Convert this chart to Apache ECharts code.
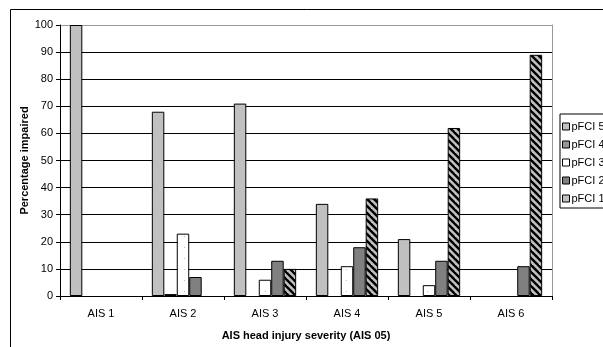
<!DOCTYPE html>
<html>
<head>
<meta charset="utf-8">
<script src="https://cdn.jsdelivr.net/npm/echarts@6/dist/echarts.min.js"></script>
<style>
html,body{margin:0;padding:0;background:#fff;}
#chart{width:603px;height:347px;}
</style>
</head>
<body>
<div id="chart"></div>
<script>
const categories = ['AIS 1', 'AIS 2', 'AIS 3', 'AIS 4', 'AIS 5', 'AIS 6'];
const seriesNames = ['pFCI 5', 'pFCI 4', 'pFCI 3', 'pFCI 2', 'pFCI 1'];
const pFCI5 = [100, 68, 71, 34, 21, 0];
const pFCI4 = [0, 0.7, 0, 0, 0, 0];
const pFCI3 = [0, 23, 6, 11, 4, 0];
const pFCI2 = [0, 7, 13, 18, 13, 11];
const pFCI1 = [0, 0, 10, 36, 62, 89];
const yTicks = [0, 10, 20, 30, 40, 50, 60, 70, 80, 90, 100];

function stripePattern() {
  const c = document.createElement('canvas');
  c.width = 7; c.height = 7;
  const ctx = c.getContext('2d');
  ctx.fillStyle = '#c0c0c0';
  ctx.fillRect(0, 0, 7, 7);
  ctx.strokeStyle = '#000';
  ctx.lineWidth = 2.4;
  for (let o = -7; o <= 7; o += 7) {
    ctx.beginPath();
    ctx.moveTo(o - 1, -1);
    ctx.lineTo(o + 8, 8);
    ctx.stroke();
  }
  return c;
}
function dotPattern() {
  const c = document.createElement('canvas');
  c.width = 9; c.height = 11;
  const ctx = c.getContext('2d');
  ctx.fillStyle = '#fff';
  ctx.fillRect(0, 0, 9, 11);
  ctx.fillStyle = '#bbb';
  ctx.fillRect(4, 5, 1, 1);
  return c;
}

const chart = echarts.init(document.getElementById('chart'), null, {renderer: 'canvas'});
const font = 'Liberation Sans, Arial, sans-serif';
const valuesList = [pFCI5, pFCI4, pFCI3, pFCI2, pFCI1];
const colors = [
  '#c0c0c0',
  '#969696',
  {image: dotPattern(), repeat: 'repeat'},
  '#808080',
  {image: stripePattern(), repeat: 'repeat'}
];
const legendColors = ['#c0c0c0', '#969696', '#ffffff', '#808080', '#c0c0c0'];

const splitColors = yTicks.map((t, i) => i === yTicks.length - 1 ? '#999' : '#000');

chart.setOption({
  animation: false,
  textStyle: {fontFamily: font},
  graphic: [{
    type: 'rect', left: 8, top: 7, z: -10,
    shape: {width: 700, height: 400},
    style: {fill: 'none', stroke: '#000', lineWidth: 1}
  }],
  grid: {left: 60, right: 51, top: 25, bottom: 51, containLabel: false},
  legend: {
    orient: 'vertical', left: 560, top: 114,
    borderColor: '#000', borderWidth: 1,
    padding: [7, 8, 4, 2],
    itemWidth: 7, itemHeight: 7, itemGap: 7,
    icon: 'rect',
    textStyle: {fontSize: 11, color: '#000', fontFamily: font, padding: [0, 0, 0, -3]},
    data: seriesNames.map((n, i) => ({name: n, itemStyle: {color: legendColors[i], borderColor: '#000', borderWidth: 1}}))
  },
  xAxis: {
    type: 'category', data: categories,
    name: 'AIS head injury severity (AIS 05)',
    nameLocation: 'middle', nameGap: 34,
    nameMoveOverlap: false,
    nameTextStyle: {fontSize: 11, fontWeight: 'bold', color: '#000', fontFamily: font},
    axisLine: {lineStyle: {color: '#000', width: 1}},
    axisTick: {show: true, length: 4, lineStyle: {color: '#000'}},
    axisLabel: {fontSize: 11, color: '#000', margin: 12, fontFamily: font},
    splitLine: {show: false}
  },
  yAxis: [{
    type: 'value', min: 0, max: 100, interval: 10,
    name: 'Percentage impaired',
    nameLocation: 'middle', nameGap: 30,
    nameMoveOverlap: false,
    nameTextStyle: {fontSize: 11, fontWeight: 'bold', color: '#000', fontFamily: font},
    axisLine: {show: true, lineStyle: {color: '#000', width: 1}},
    axisTick: {show: true, length: 4, lineStyle: {color: '#000'}},
    axisLabel: {fontSize: 11, color: '#000', margin: 7, fontFamily: font},
    splitLine: {show: true, lineStyle: {color: splitColors, width: 1}}
  }, {
    type: 'value', min: 0, max: 100, interval: 10, position: 'right',
    axisLine: {show: true, lineStyle: {color: '#999', width: 1}},
    axisTick: {show: false}, axisLabel: {show: false}, splitLine: {show: false}
  }],
  series: seriesNames.map((n, i) => ({
    name: n, type: 'bar',
    data: valuesList[i].map(v => v === 0 ? null : v),
    barGap: '0%', barCategoryGap: '24%',
    itemStyle: {color: colors[i], borderColor: '#000', borderWidth: 1}
  }))
});
</script>
</body>
</html>
